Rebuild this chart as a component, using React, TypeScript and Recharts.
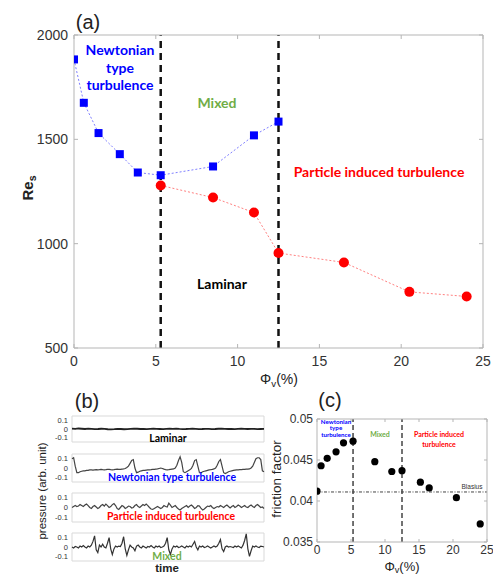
import React from 'react';
import { ComposedChart, LineChart, Line, XAxis, YAxis, ReferenceLine, ReferenceArea } from 'recharts';

// panel (a): critical Reynolds number vs particle volume fraction
const phiNewtonian = [0, 0.6, 1.5, 2.8, 3.9, 5.3, 8.5, 11, 12.5];
const reNewtonian = [1883, 1675, 1530, 1429, 1341, 1328, 1370, 1519, 1585];
const phiParticle = [5.3, 8.5, 11, 12.5, 16.5, 20.5, 24];
const reParticle = [1279, 1221, 1149, 955, 910, 769, 747];
const transitions = [5.3, 12.5];
const phiTicks = [0, 5, 10, 15, 20, 25];
const reTicks = [500, 1000, 1500, 2000];

// panel (c): friction factor
const phiFriction = [0, 0.6, 1.5, 2.8, 3.9, 5.3, 8.5, 11, 12.5, 15.2, 16.5, 20.5, 24];
const friction = [0.0412, 0.0443, 0.0452, 0.046, 0.0471, 0.0473, 0.0448, 0.0436, 0.0437, 0.0423, 0.0416, 0.0404, 0.0372];
const blasius = 0.0411;
const frictionTicks = [0.035, 0.04, 0.045, 0.05];

// panel (b): pressure traces
const laminarTrace = [0.005, 0.002, 0.006, 0.003, 0, 0.004, 0.002, -0.002, 0, 0.003, 0.001, -0.003, -0.004, -0.002, 0.001, 0, -0.003, -0.001, 0.002, 0.004, 0.003, 0, 0.002, -0.001, 0.001, 0.003, 0.002, 0, -0.002, 0.001, 0.003, 0.002, 0.004, 0.001, -0.001, 0, 0.002, 0.003, 0.001, -0.001, 0, 0.002, 0.001, -0.002, 0, 0.003, 0.004, 0.002, 0, 0.001, -0.001, 0.002, 0.003, 0.001, 0, 0.002, 0.001, -0.001, 0, 0.001];
const newtonianTrace = [0.1, 0.11, 0.02, -0.05, -0.05, -0.04, -0.035, -0.03, -0.03, -0.025, -0.025, -0.02, -0.02, -0.022, -0.02, -0.018, -0.02, -0.018, -0.015, -0.018, -0.02, -0.018, -0.015, -0.015, -0.018, -0.02, -0.018, -0.015, -0.012, -0.015, -0.015, -0.012, -0.01, -0.005, 0.005, 0.02, 0.05, 0.08, 0.09, 0, -0.05, -0.045, -0.035, -0.03, -0.025, -0.025, -0.022, -0.02, -0.02, -0.018, -0.015, -0.015, -0.012, -0.01, -0.005, 0, -0.005, -0.012, -0.018, -0.02, -0.018, -0.015, -0.012, -0.01, 0, 0.03, 0.08, 0.12, 0.06, -0.04, -0.05, -0.04, -0.03, -0.02, -0.005, 0.03, 0.08, 0.09, 0.02, -0.05, -0.05, -0.04, -0.035, -0.03, -0.025, -0.02, -0.018, -0.015, -0.01, 0, 0.03, 0.07, 0.09, 0.02, -0.05, -0.06, -0.05, -0.04, -0.035, -0.03, -0.025, -0.022, -0.02, -0.02, -0.018, -0.018, -0.015, -0.015, -0.012, -0.012, -0.01, 0, 0.02, 0.06, 0.1, 0.11, 0.11, 0.09, -0.03, -0.04];
const particleTrace = [0, 0.01, 0.02, 0.01, 0.015, 0.03, 0.02, 0.01, 0.025, 0.035, 0.02, 0, -0.01, 0.01, 0.02, 0.005, -0.01, 0, 0.02, 0.03, 0.015, 0.035, 0.02, 0, 0.01, 0.03, 0.04, 0.02, -0.01, -0.02, 0, 0.02, 0.01, -0.01, 0, 0.015, 0.01, -0.005, 0, 0.02, 0.03, 0.01, 0, 0.015, 0.03, 0.02, 0.035, 0.02, 0, -0.015, -0.02, -0.01, 0, 0.01, 0, -0.01, 0, 0.02, 0.01, 0.005, 0.045, 0.025, 0, 0.01, 0.02, 0, -0.015, -0.025, -0.01, 0, 0.01, 0.02, 0, 0.015, 0.025, 0.01, -0.01, 0, 0.02, 0.015, -0.01, -0.025, -0.015, 0, 0.015, 0.01, 0.02, 0, -0.01, 0, 0.01, 0.005, 0.02, 0.01, 0, 0.015, 0.025, 0.01, -0.005, 0.01, 0.02, 0, 0.01, 0.025, 0.015, 0, 0.01, 0.02, 0.005, 0, 0.015, 0.025, 0.01, 0, 0.02, 0.03, 0.015, 0, 0.005, -0.01];
const mixedTrace = [0, -0.01, 0.005, 0, -0.01, 0.01, 0, 0.015, 0, -0.01, 0.01, 0, 0.02, 0.06, 0.12, -0.03, -0.06, 0.02, 0, 0.03, 0, -0.01, 0.04, 0.1, -0.02, -0.08, -0.02, 0.01, 0, 0.01, 0.005, 0.04, 0.11, -0.02, -0.09, -0.03, 0.02, 0, -0.01, -0.04, 0.01, 0.02, 0, -0.01, 0.01, 0, -0.01, 0.005, 0, 0.015, 0, -0.01, 0.01, 0, 0.01, -0.005, 0, 0.01, 0.04, 0.1, -0.03, -0.08, -0.02, 0.01, 0, 0.01, -0.005, 0, 0.01, 0, -0.01, 0.01, 0, 0.01, 0, 0.03, 0.06, 0, -0.03, 0.01, 0, 0.01, -0.005, 0, 0.01, 0, -0.01, 0, 0.01, 0, 0.01, 0.04, 0.08, -0.02, -0.05, 0, 0.01, 0, 0.005, 0, -0.005, 0.01, 0, 0.01, 0, -0.01, 0.02, 0.07, 0.14, -0.02, -0.1, -0.04, 0.01, 0, 0.01, 0, -0.005, 0.01, 0.005, 0];
const pressureTicks = [-0.1, 0, 0.1];

const AXIS = '#b5b5b5';
const TICK_TEXT = '#333';
const SANS = '"Liberation Sans", Arial, sans-serif';
const NOTE = 'Lato, "Open Sans", sans-serif';
const BLUE = '#0000ff';
const RED = '#ff0000';
const GREEN = '#70ad47';

const toPoints = (xs: number[], ys: number[], key: string) => xs.map((x, i) => ({ phi: x, [key]: ys[i] }));
const toTrace = (vals: number[]) => vals.map((v, i) => ({ t: i, p: v }));

// inward tick marks with labels outside, MATLAB style
const makeTick = (side: string, fontSize: number, len: number, gap = 6) => (props: any) => {
  const { x, y, payload } = props;
  const v = payload.value;
  if (side === 'bottom') {
    return (
      <g>
        <line x1={x} x2={x} y1={y} y2={y - len} stroke={AXIS} />
        <text x={x} y={y + fontSize * 0.35 + gap} dy="0.35em" textAnchor="middle" fontSize={fontSize} fill={TICK_TEXT} fontFamily={SANS}>{v}</text>
      </g>
    );
  }
  if (side === 'top') return <line x1={x} x2={x} y1={y} y2={y + len} stroke={AXIS} />;
  if (side === 'right') return <line x1={x} x2={x - len} y1={y} y2={y} stroke={AXIS} />;
  return (
    <g>
      {len > 0 && <line x1={x} x2={x + len} y1={y} y2={y} stroke={AXIS} />}
      <text x={x - gap} y={y} dy="0.35em" textAnchor="end" fontSize={fontSize} fill={TICK_TEXT} fontFamily={SANS}>{v}</text>
    </g>
  );
};

const Txt = ({ x, y, size, color = '#000', weight = 'bold', family = NOTE, rotate = 0, children }: any) => (
  <div
    style={{
      position: 'absolute', left: x, top: y, fontSize: size, color, fontWeight: weight, fontFamily: family,
      whiteSpace: 'nowrap', lineHeight: 1, transform: `translate(-50%, -50%) rotate(${rotate}deg)`,
    }}
  >
    {children}
  </div>
);

const Phi = () => (
  <span>Φ<sub style={{ fontSize: '0.7em', verticalAlign: '-0.3em', lineHeight: 0 }}>v</sub>(%)</span>
);

const square = (color: string, s: number) => (props: any) => {
  const { cx, cy, index } = props;
  return <rect key={index} x={cx - s / 2} y={cy - s / 2} width={s} height={s} fill={color} />;
};
const dot = (color: string, r: number) => (props: any) => {
  const { cx, cy, index } = props;
  return <circle key={index} cx={cx} cy={cy} r={r} fill={color} />;
};

// axes get 1px of size: recharts skips drawing an axis that has zero width/height
function PanelA() {
  const newtonian = toPoints(phiNewtonian, reNewtonian, 're');
  const particle = toPoints(phiParticle, reParticle, 're');
  return (
    <ComposedChart width={493} height={380} margin={{ top: 34, right: 9, bottom: 31, left: 73 }}>
      <XAxis xAxisId="b" type="number" dataKey="phi" domain={[0, 25]} ticks={phiTicks} interval={0} height={1} tickSize={0} tickMargin={0}
        axisLine={{ stroke: AXIS }} tickLine={false} tick={makeTick('bottom', 14, 4, 8)} allowDataOverflow />
      <XAxis xAxisId="t" orientation="top" type="number" dataKey="phi" domain={[0, 25]} ticks={phiTicks} interval={0} height={1} tickSize={0} tickMargin={0}
        axisLine={{ stroke: AXIS }} tickLine={false} tick={makeTick('top', 14, 4)} allowDataOverflow />
      <YAxis yAxisId="l" type="number" domain={[500, 2000]} ticks={reTicks} interval={0} width={1} tickSize={0} tickMargin={0}
        axisLine={{ stroke: AXIS }} tickLine={false} tick={makeTick('left', 14, 4, 6)} allowDataOverflow />
      <YAxis yAxisId="r" orientation="right" type="number" domain={[500, 2000]} ticks={reTicks} interval={0} width={1} tickSize={0} tickMargin={0}
        axisLine={{ stroke: AXIS }} tickLine={false} tick={makeTick('right', 14, 4)} allowDataOverflow />
      {transitions.map((x) => (
        <ReferenceLine key={x} xAxisId="b" yAxisId="l" x={x} stroke="#111" strokeWidth={2.5} strokeDasharray="7 5" />
      ))}
      <Line xAxisId="b" yAxisId="l" data={newtonian} dataKey="re" stroke="#7f7fff" strokeWidth={1} strokeDasharray="2 2"
        dot={square(BLUE, 8)} activeDot={false} isAnimationActive={false} />
      <Line xAxisId="b" yAxisId="l" data={particle} dataKey="re" stroke="#ff8080" strokeWidth={1} strokeDasharray="2 2"
        dot={dot(RED, 5)} activeDot={false} isAnimationActive={false} />
    </ComposedChart>
  );
}

function PanelC() {
  const pts = toPoints(phiFriction, friction, 'f');
  return (
    <ComposedChart width={243} height={196} margin={{ top: 38, right: 5, bottom: 33, left: 66 }}>
      <XAxis xAxisId="b" type="number" dataKey="phi" domain={[0, 25]} ticks={phiTicks} interval={0} height={1} tickSize={0} tickMargin={0}
        axisLine={{ stroke: AXIS }} tickLine={false} tick={makeTick('bottom', 12, 3, 4)} allowDataOverflow />
      <XAxis xAxisId="t" orientation="top" type="number" dataKey="phi" domain={[0, 25]} ticks={phiTicks} interval={0} height={1} tickSize={0} tickMargin={0}
        axisLine={{ stroke: AXIS }} tickLine={false} tick={makeTick('top', 12, 3)} allowDataOverflow />
      <YAxis yAxisId="l" type="number" domain={[0.035, 0.05]} ticks={frictionTicks} interval={0} width={1} tickSize={0} tickMargin={0}
        axisLine={{ stroke: AXIS }} tickLine={false} tick={makeTick('left', 12, 3, 4)} allowDataOverflow />
      <YAxis yAxisId="r" orientation="right" type="number" domain={[0.035, 0.05]} ticks={frictionTicks} interval={0} width={1} tickSize={0} tickMargin={0}
        axisLine={{ stroke: AXIS }} tickLine={false} tick={makeTick('right', 12, 3)} allowDataOverflow />
      {transitions.map((x) => (
        <ReferenceLine key={x} xAxisId="b" yAxisId="l" x={x} stroke="#444" strokeWidth={1.5} strokeDasharray="5 3" />
      ))}
      <ReferenceLine xAxisId="b" yAxisId="l" y={blasius} stroke="#444" strokeWidth={1} strokeDasharray="3 1.5 1 1.5" />
      <Line xAxisId="b" yAxisId="l" data={pts} dataKey="f" stroke="none" dot={dot('#000', 3.6)} activeDot={false} isAnimationActive={false} />
    </ComposedChart>
  );
}

const strips = [
  { trace: laminarTrace, top: 416, bottom: 442, width: 1.8, color: '#222' },
  { trace: newtonianTrace, top: 454, bottom: 482, width: 1.2, color: '#444' },
  { trace: particleTrace, top: 493, bottom: 522, width: 1.2, color: '#444' },
  { trace: mixedTrace, top: 533, bottom: 561, width: 1.2, color: '#333' },
];

function Strip({ trace, top, bottom, width, color }: any) {
  const data = toTrace(trace);
  const n = trace.length - 1;
  return (
    <div style={{ position: 'absolute', left: 0, top: top - 4 }}>
      <LineChart width={270} height={bottom - top + 8} data={data} margin={{ top: 4, right: 6, bottom: 4, left: 71 }}>
        <XAxis type="number" dataKey="t" domain={[0, n]} hide />
        <YAxis type="number" domain={[-0.15, 0.15]} ticks={pressureTicks} interval={0} width={1} tickSize={0} tickMargin={0}
          axisLine={false} tickLine={false} tick={makeTick('left', 7.5, 0, 4)} allowDataOverflow />
        <ReferenceArea x1={0} x2={n} y1={-0.15} y2={0.15} fill="none" stroke="#d9d9d9" strokeWidth={1} />
        <Line dataKey="p" stroke={color} strokeWidth={width} dot={false} activeDot={false} isAnimationActive={false} />
      </LineChart>
    </div>
  );
}

export default function App() {
  return (
    <div style={{ position: 'absolute', left: 0, top: 0, width: 493, height: 576, background: '#fff', overflow: 'hidden', fontFamily: SANS }}>
      <div style={{ position: 'absolute', left: 0, top: 0 }}>
        <PanelA />
      </div>
      <div style={{ position: 'absolute', left: 250, top: 380 }}>
        <PanelC />
      </div>
      {strips.map((s, i) => <Strip key={i} {...s} />)}

      {/* panel (a) text */}
      <Txt x={88} y={22} size={20} weight="normal" family={SANS} color="#222">(a)</Txt>
      <Txt x={27} y={188} size={15} family={SANS} color="#222" rotate={-90}>
        <span>Re<sub style={{ fontSize: '0.7em', verticalAlign: '-0.3em', lineHeight: 0 }}>s</sub></span>
      </Txt>
      <Txt x={279} y={379} size={14} weight="normal" family={SANS} color="#222"><Phi /></Txt>
      <Txt x={120} y={50} size={14} color={BLUE}>Newtonian</Txt>
      <Txt x={120} y={68} size={14} color={BLUE}>type</Txt>
      <Txt x={120} y={85} size={14} color={BLUE}>turbulence</Txt>
      <Txt x={217} y={103} size={14} color={GREEN}>Mixed</Txt>
      <Txt x={379} y={172} size={14} color={RED}>Particle induced turbulence</Txt>
      <Txt x={222} y={284} size={14} color="#000">Laminar</Txt>

      {/* panel (b) text */}
      <Txt x={87} y={401} size={20} weight="normal" family={SANS} color="#222">(b)</Txt>
      <Txt x={43} y={491} size={11.5} weight="normal" family={SANS} color="#222" rotate={-90}>pressure (arb. unit)</Txt>
      <Txt x={167} y={569} size={11.5} family={SANS} color="#222">time</Txt>
      <Txt x={168} y={438} size={10.5} color="#000">Laminar</Txt>
      <Txt x={172} y={477} size={10.5} color={BLUE}>Newtonian type turbulence</Txt>
      <Txt x={171} y={516} size={10.5} color={RED}>Particle induced turbulence</Txt>
      <Txt x={167} y={556} size={10.5} color={GREEN}>Mixed</Txt>

      {/* panel (c) text */}
      <Txt x={330} y={400} size={20} weight="normal" family={SANS} color="#222">(c)</Txt>
      <Txt x={277} y={479} size={13.5} weight="normal" family={SANS} color="#222" rotate={-90}>friction factor</Txt>
      <Txt x={402} y={566} size={13} weight="normal" family={SANS} color="#222"><Phi /></Txt>
      <Txt x={336} y={421.5} size={6.2} color={BLUE}>Newtonian</Txt>
      <Txt x={336} y={428} size={6.2} color={BLUE}>type</Txt>
      <Txt x={336} y={434.5} size={6.2} color={BLUE}>turbulence</Txt>
      <Txt x={380} y={434} size={7} color={GREEN}>Mixed</Txt>
      <Txt x={439} y={434} size={7} color={RED}>Particle induced</Txt>
      <Txt x={439} y={444} size={7} color={RED}>turbulence</Txt>
      <Txt x={472} y={487} size={6.5} weight="normal" family={SANS} color="#333">Blasius</Txt>
    </div>
  );
}
